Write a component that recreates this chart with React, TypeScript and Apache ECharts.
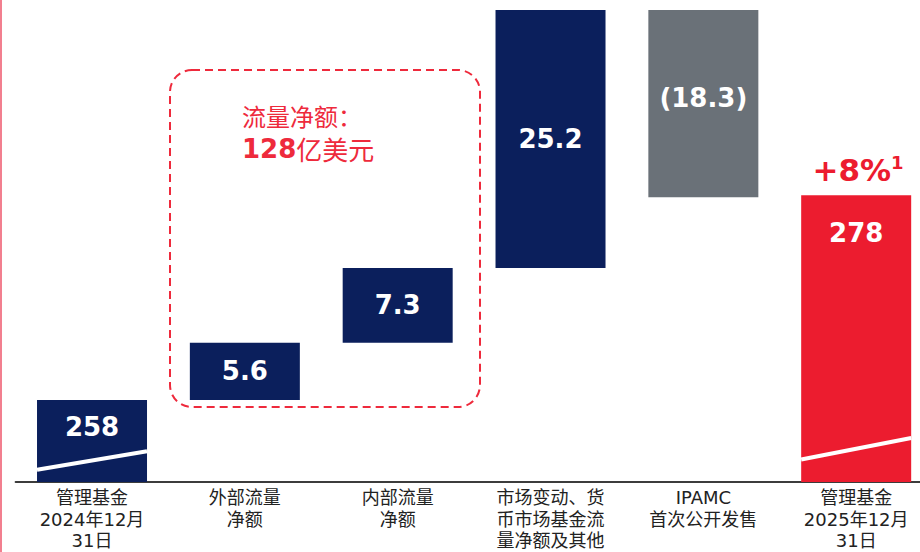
import { useEffect, useRef } from 'react';
import * as echarts from 'echarts';

const categories = [
  '管理基金\n2024年12月\n31日',
  '外部流量\n净额',
  '内部流量\n净额',
  '市场变动、货\n币市场基金流\n量净额及其他',
  'IPAMC\n首次公开发售',
  '管理基金\n2025年12月\n31日',
];
const startAum = 258;
const changes = [5.6, 7.3, 25.2, -18.3];
const endAum = 278;
const valueLabels = ['258', '5.6', '7.3', '25.2', '(18.3)', '278'];
// axis-break marks: [category index, value at left edge, value at right edge]
const breakMarks = [
  [0, 251.2, 253.0],
  [5, 252.2, 254.3],
];
const axisFloor = 250;
const netFlowTitle = '流量净额：';
const netFlowValue = '128';
const netFlowUnit = '亿美元';
const growthLabel = '+8%';
const growthNote = '1';

const NAVY = '#0b1f5c';
const GRAY = '#6a7178';
const RED = '#ec1c2f';
const BOX_RED = '#ee2a3c';
const LATIN = 'DejaVu Sans, "Noto Sans CJK SC", sans-serif';
const CJK = '"Noto Sans CJK SC", "DejaVu Sans", sans-serif';

export default function App() {
  const ref = useRef<HTMLDivElement>(null);
  useEffect(() => {
    if (!ref.current) return;
    const chart = echarts.init(ref.current, undefined, { renderer: 'svg' });

    let running = startAum;
    let peak = running;
    const base: number[] = [0];
    const delta: number[] = [startAum];
    changes.forEach((c) => {
      if (c >= 0) {
        base.push(running);
        delta.push(c);
        running += c;
      } else {
        running += c;
        base.push(running);
        delta.push(-c);
      }
      peak = Math.max(peak, running);
    });
    base.push(0);
    delta.push(endAum);

    const colors = delta.map((_, i) =>
      i === delta.length - 1 ? RED : changes[i - 1] !== undefined && changes[i - 1] < 0 ? GRAY : NAVY
    );

    const deltaData = delta.map((v, i) => {
      let label: any = { position: 'inside' };
      if (i === 0) label = { position: 'insideTop', distance: 13 };
      if (i === delta.length - 1) label = { position: 'insideTop', distance: 24 };
      if (i > 0 && i < delta.length - 1 && changes[i - 1] < 0) label = { position: 'inside', offset: [0, -6] };
      return { value: v, itemStyle: { color: colors[i] }, label };
    });

    chart.setOption({
      animation: false,
      grid: { left: 15.6, width: 917, top: 10, bottom: 70, outerBoundsMode: 'none', containLabel: false },
      xAxis: {
        type: 'category',
        data: categories,
        axisTick: { show: false },
        axisLine: { onZero: false, lineStyle: { color: '#3c3c3c', width: 2 } },
        axisLabel: {
          interval: 0,
          margin: 5,
          fontSize: 18,
          lineHeight: 21.5,
          color: '#222',
          fontFamily: LATIN,
        },
      },
      yAxis: {
        type: 'value',
        min: axisFloor,
        max: peak,
        show: false,
        splitLine: { show: false },
      },
      series: [
        {
          type: 'bar',
          stack: 'w',
          barWidth: 110,
          silent: true,
          itemStyle: { color: 'transparent' },
          data: base,
        },
        {
          type: 'bar',
          stack: 'w',
          barWidth: 110,
          data: deltaData,
          label: {
            show: true,
            color: '#fff',
            fontSize: 26,
            fontWeight: 'bold',
            fontFamily: LATIN,
            lineHeight: 28,
            formatter: (p: any) => valueLabels[p.dataIndex],
          },
        },
        {
          type: 'custom',
          z: 5,
          silent: true,
          data: breakMarks,
          encode: { x: 0, y: [1, 2] },
          renderItem: (_params: any, api: any) => {
            const i = api.value(0);
            const p1 = api.coord([i, api.value(1)]);
            const p2 = api.coord([i, api.value(2)]);
            const half = 55;
            return {
              type: 'line',
              shape: { x1: p1[0] - half, y1: p1[1], x2: p2[0] + half, y2: p2[1] },
              style: { stroke: '#fff', lineWidth: 4 },
            };
          },
        },
      ],
      graphic: [
        {
          type: 'rect',
          left: 0,
          top: 0,
          shape: { width: 2, height: 552 },
          style: { fill: '#f27f8f' },
        },
        {
          type: 'rect',
          shape: { x: 170, y: 70, width: 310, height: 337, r: 22 },
          style: { fill: 'none', stroke: BOX_RED, lineWidth: 2, lineDash: [8, 5] },
        },
        {
          type: 'text',
          x: 242,
          y: 99,
          style: {
            text: `{a|${netFlowTitle}}\n{b|${netFlowValue}}{c|${netFlowUnit}}`,
            rich: {
              a: { fontSize: 24, fontFamily: CJK, fill: BOX_RED, lineHeight: 33 },
              b: { fontSize: 26, fontWeight: 'bold', fontFamily: LATIN, fill: BOX_RED, lineHeight: 33 },
              c: { fontSize: 26, fontFamily: CJK, fill: BOX_RED, lineHeight: 33 },
            },
          },
        },
        {
          type: 'text',
          x: 858,
          y: 170,
          style: {
            text: `{p|${growthLabel}}{s|${growthNote}}`,
            align: 'center',
            verticalAlign: 'middle',
            rich: {
              p: { fontSize: 31, fontWeight: 'bold', fontFamily: LATIN, fill: RED, lineHeight: 34 },
              s: { fontSize: 18, fontWeight: 'bold', fontFamily: LATIN, fill: RED, verticalAlign: 'top' },
            },
          },
        },
      ],
    });
    return () => chart.dispose();
  }, []);
  return <div ref={ref} style={{ position: 'absolute', left: 0, top: 0, width: 920, height: 552 }} />;
}
